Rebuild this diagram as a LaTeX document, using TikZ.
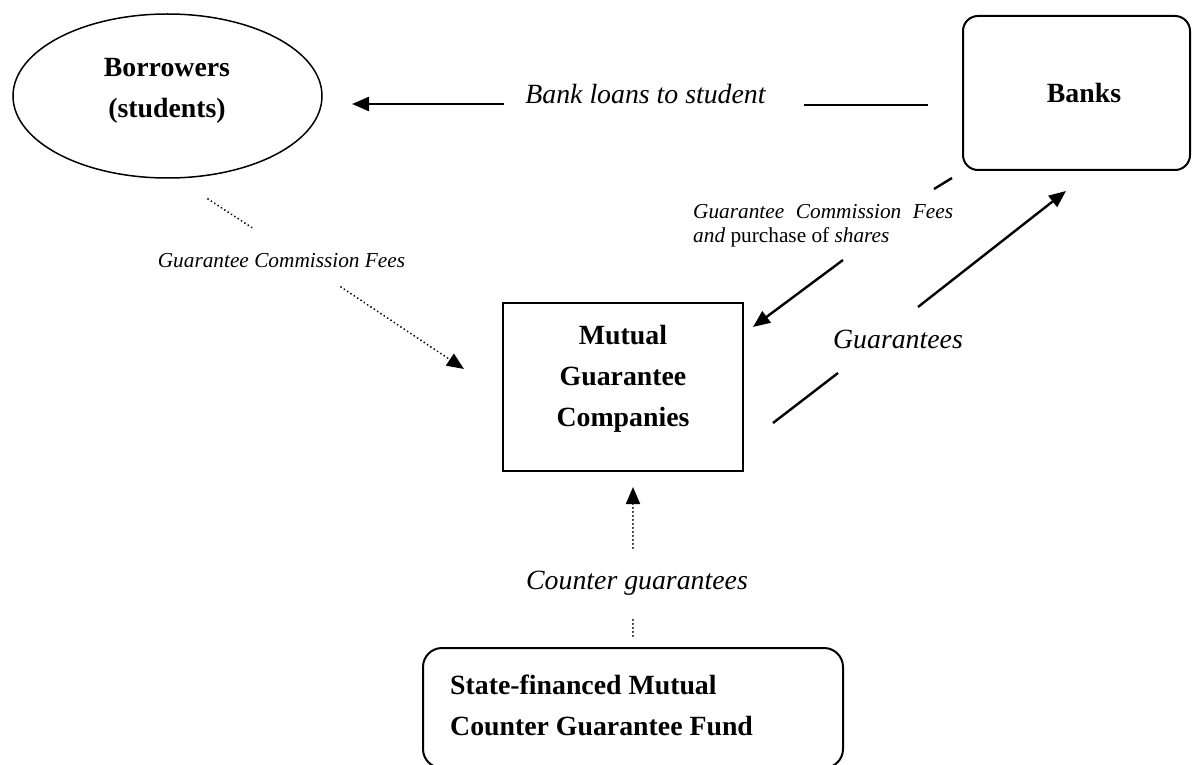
\documentclass[tikz,border=0pt]{standalone}
\usepackage{fontspec}
\setmainfont{Liberation Serif}
\usetikzlibrary{arrows.meta,shapes.geometric}
\tikzset{
  boxline/.style={draw=black, line width=2pt},
  bigbold/.style={font=\fontsize{27.8}{41}\selectfont\bfseries, inner sep=0pt},
  bigit/.style={font=\fontsize{27.8}{41}\selectfont\itshape, inner sep=0pt},
  smallit/.style={font=\fontsize{21.3}{23.5}\selectfont\itshape, inner sep=0pt},
  flow/.style={line width=2.4pt},
  flowarrow/.style={flow, -{Triangle[length=17pt,width=14pt]}},
  dotflow/.style={line width=2pt, line cap=round, dash pattern=on 0.1pt off 3.9pt},
  dotarrow/.style={dotflow, -{Triangle[length=17pt,width=14pt]}},
}
\begin{document}
\begin{tikzpicture}[x=1pt,y=-1pt]
\useasboundingbox (0,0) rectangle (1192,765);

% ---- nodes ----
\node[ellipse, draw=black, line width=1.5pt, minimum width=309pt, minimum height=164pt, inner sep=0pt] (bor) at (167.5,96) {};
\node[bigbold, align=center] (bortext) at (167,90.5) {Borrowers\\(students)};

\node[boxline, rounded corners=15pt, minimum width=227pt, minimum height=154pt, inner sep=0pt] (banks) at (1076.5,93) {};
\node[bigbold, anchor=base] (bankstext) at (1084,103) {Banks};

\node[boxline, minimum width=240pt, minimum height=168pt, inner sep=0pt] (mgc) at (623,387) {};
\node[bigbold, align=center] (mgctext) at (623,378.6) {Mutual\\Guarantee\\Companies};

\node[boxline, rounded corners=19pt, minimum width=420pt, minimum height=120pt, inner sep=0pt] (fund) at (633,708) {};
\node[bigbold, align=left, anchor=west] (fundtext) at (450,705) {State-financed Mutual\\Counter Guarantee Fund};

% ---- labels ----
\node[bigit, anchor=base] (loanlbl) at (645.5,104) {Bank loans to student};
\node[smallit, anchor=base] (feelbl) at (281.5,267) {Guarantee Commission Fees};
\node[smallit, align=left, anchor=west] (shareslbl) at (693,225.5) {\makebox[260pt][s]{Guarantee Commission Fees}\\and \textup{purchase of} shares};
\node[bigit, anchor=base] (guarlbl) at (898,348) {Guarantees};
\node[bigit, anchor=base] (counterlbl) at (637,589) {Counter guarantees};

% ---- connector coordinates ----
\coordinate (blA) at (928,105);
\coordinate (blB) at (804,105);
\coordinate (blC) at (504,104);
\coordinate (blD) at (352,104);

\coordinate (gA) at (208,199);
\coordinate (gB) at (254,229);
\coordinate (gC) at (341,287);
\coordinate (gD) at (464,369);

\coordinate (sA) at (952,178);
\coordinate (sB) at (934,189);
\coordinate (sC) at (843,260);
\coordinate (sD) at (753,327);

\coordinate (uA) at (773,423);
\coordinate (uB) at (838,373);
\coordinate (uC) at (918,307);
\coordinate (uD) at (1066,191);

\coordinate (cA) at (633,636);
\coordinate (cB) at (633,618);
\coordinate (cC) at (633,548);
\coordinate (cD) at (633,487);

% ---- connectors ----
% Banks -> Borrowers : bank loans
\draw[flow] (blA) -- (blB);
\draw[flowarrow] (blC) -- (blD);

% Borrowers -> MGC : guarantee commission fees
\draw[dotflow] (gA) -- (gB);
\draw[dotarrow] (gC) -- (gD);

% Banks -> MGC : fees and shares
\draw[flow] (sA) -- (sB);
\draw[flowarrow] (sC) -- (sD);

% MGC -> Banks : guarantees
\draw[flow] (uA) -- (uB);
\draw[flowarrow] (uC) -- (uD);

% Fund -> MGC : counter guarantees
\draw[dotflow] (cA) -- (cB);
\draw[dotarrow] (cC) -- (cD);
\end{tikzpicture}
\end{document}
